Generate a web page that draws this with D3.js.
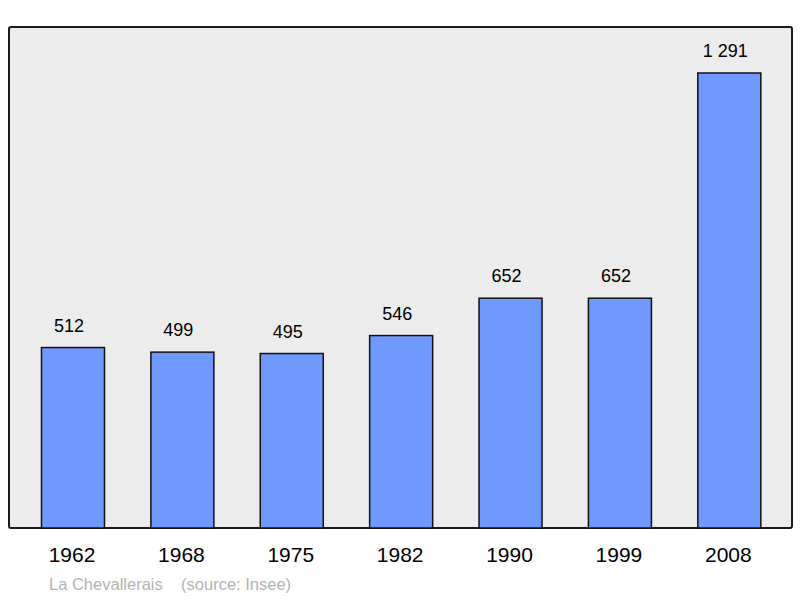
<!DOCTYPE html>
<html><head><meta charset="utf-8">
<script src="https://cdn.jsdelivr.net/npm/d3@7"></script>
<style>body{margin:0;background:#fff}</style>
</head><body>
<svg id="c" width="800" height="598"></svg>
<script>
const years = ["1962","1968","1975","1982","1990","1999","2008"];
const population = [512,499,495,546,652,652,1291];
const valueLabels = ["512","499","495","546","652","652","1 291"];

const svg = d3.select("#c");
const font = "Liberation Sans, Arial, sans-serif";
svg.append("rect").attr("x",9).attr("y",27).attr("width",783).attr("height",501)
  .attr("rx",2).attr("fill","#ececec").attr("stroke","#1a1a1a").attr("stroke-width",2);

const x = d3.scaleBand().domain(years).range([18.3,784]).padding(0);
const y = d3.scaleLinear().domain([0,1291]).range([528,73]);
const bw = x.bandwidth()*0.576, off = (x.bandwidth()-bw)/2;

svg.selectAll("rect.bar").data(population).join("rect").attr("class","bar")
  .attr("x",(d,i)=>x(years[i])+off).attr("y",d=>y(d))
  .attr("width",bw).attr("height",d=>y(0)-y(d))
  .attr("fill","#7099ff").attr("stroke","#111").attr("stroke-width",1.5);

svg.selectAll("text.v").data(population).join("text").attr("class","v")
  .attr("x",(d,i)=>x(years[i])+x.bandwidth()/2-4).attr("y",d=>y(d)-16)
  .attr("text-anchor","middle").attr("font-family",font).attr("font-size",18)
  .text((d,i)=>valueLabels[i]);

const ax = svg.append("g").attr("transform","translate(0,528)")
  .call(d3.axisBottom(x).tickSize(0).tickPadding(19));
ax.select(".domain").remove();
ax.selectAll("text").attr("font-family",font).attr("font-size",21).attr("fill","#000")
  .attr("dx",-1);

svg.append("text").attr("x",49).attr("y",590).attr("font-family",font).attr("font-size",16.5)
  .attr("fill","#b3b3b3").attr("xml:space","preserve").text("La Chevallerais    (source: Insee)");
</script>
</body></html>
